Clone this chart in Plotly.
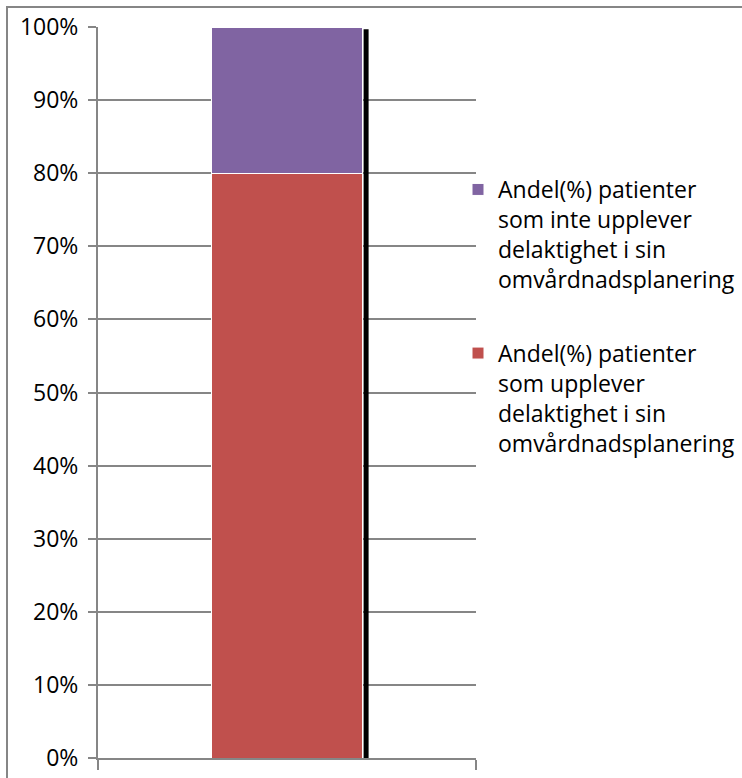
import plotly.graph_objects as go

categories = ["1"]
series_names = [
    "Andel(%) patienter<br>som upplever<br>delaktighet i sin<br>omvårdnadsplanering",
    "Andel(%) patienter<br>som inte upplever<br>delaktighet i sin<br>omvårdnadsplanering",
]
series_values = [[80], [20]]
series_colors = ["#C0504D", "#8064A2"]
legend_ranks = [2, 1]
tick_vals = list(range(0, 101, 10))
tick_text = [f"{v}%" for v in tick_vals]
bar_width = 0.4

FONT = "Open Sans, Liberation Sans, sans-serif"
GRID = "#868686"

fig = go.Figure()
for i, (name, vals, col, rk) in enumerate(zip(series_names, series_values, series_colors, legend_ranks)):
    fig.add_trace(go.Bar(
        x=categories, y=vals, name=name, width=bar_width,
        marker=dict(color=col, line=dict(color="white", width=1)),
        legendgroup=f"g{i}", legendrank=rk,
    ))

W, H = 742, 778
ml, mr, mt, mb = 98, W - 476, 27, H - 758
pw, ph = W - ml - mr, H - mt - mb

fig.update_layout(
    width=W, height=H,
    margin=dict(l=ml, r=mr, t=mt, b=mb, pad=0, autoexpand=False),
    barmode="stack",
    plot_bgcolor="white", paper_bgcolor="white",
    font=dict(family=FONT, size=21, color="black"),
    showlegend=True,
    legend=dict(
        x=(458 - ml) / pw, xanchor="left",
        y=1 - (168 - mt) / ph, yanchor="top",
        traceorder="grouped", tracegroupgap=41, valign="top",
        font=dict(family=FONT, size=23, color="black"),
        bgcolor="rgba(0,0,0,0)", itemwidth=30,
    ),
    xaxis=dict(
        range=[-0.5, 0.5], showticklabels=False, tickson="boundaries",
        ticks="outside", ticklen=10, tickwidth=2, tickcolor=GRID,
        showgrid=False, showline=True, linecolor=GRID, linewidth=2,
        zeroline=False, fixedrange=True,
    ),
    yaxis=dict(
        range=[0, 100], tickvals=tick_vals, ticktext=tick_text,
        ticks="outside", ticklen=8, tickwidth=2, tickcolor=GRID,
        showgrid=True, gridcolor=GRID, gridwidth=2,
        showline=True, linecolor=GRID, linewidth=2,
        zeroline=False, ticklabelstandoff=5,
        tickfont=dict(family=FONT, size=23, color="black"),
    ),
)

# black vertical line at right edge of the bar
edge = bar_width / 2 + 3.5 / pw
fig.add_shape(type="line", xref="x", yref="y", x0=edge, x1=edge, y0=0, y1=99.7,
              line=dict(color="black", width=5), layer="above")

# outer chart border
fig.add_shape(type="rect", xref="paper", yref="paper",
              x0=(7 - ml) / pw, x1=(W + 20 - ml) / pw,
              y0=-(H + 20 - 758) / ph, y1=1 + (758 - 7 - ph) / ph,
              line=dict(color=GRID, width=2), fillcolor="rgba(0,0,0,0)", layer="below")

fig.write_html("out.html")
